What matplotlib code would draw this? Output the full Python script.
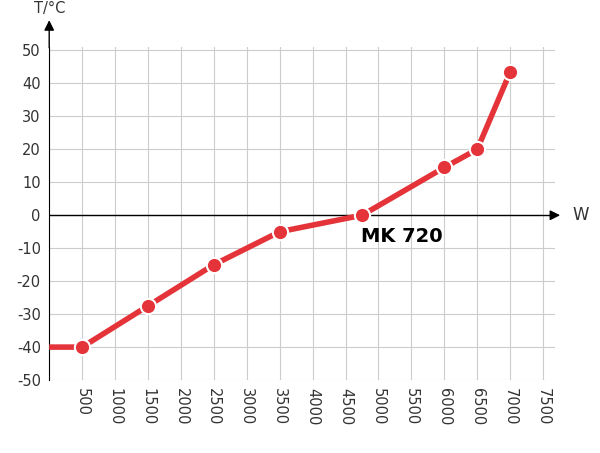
import matplotlib.pyplot as plt

watts = [0, 500, 1500, 2500, 3500, 4750, 6000, 6500, 7000]
temps = [-40, -40, -27.5, -15, -5, 0, 14.5, 20, 43.5]
xticks = list(range(500, 7501, 500))
yticks = list(range(-50, 51, 10))

fig = plt.figure(figsize=(6, 4.53), dpi=100)
ax = fig.add_axes([0.082, 0.161, 0.843, 0.735])
ax.set_xlim(0, 7680)
ax.set_ylim(-50, 51)
for x in xticks:
    ax.axvline(x, color='#cccccc', lw=0.8, zorder=0)
for y in yticks:
    ax.axhline(y, color='#cccccc', lw=0.8, zorder=0)
for s in ['top', 'right', 'bottom']:
    ax.spines[s].set_visible(False)
ax.spines['left'].set_color('black')
ax.axhline(0, color='black', lw=1, zorder=1)

ax.plot(watts, temps, color='#e4343a', lw=4, zorder=3, solid_capstyle='butt')
ax.plot(watts[1:], temps[1:], 'o', color='#e4343a', ms=11, mec='white', mew=1.5, zorder=4)

ax.set_xticks(xticks)
ax.set_xticklabels([str(x) for x in xticks], rotation=-90, fontsize=10.5, color='#333333')
ax.set_yticks(yticks)
ax.set_yticklabels([str(y) for y in yticks], fontsize=10.5, color='#333333')
ax.tick_params(length=0, pad=6)

# arrows
ax.annotate('', xy=(0, 60), xytext=(0, 50), annotation_clip=False,
            arrowprops=dict(arrowstyle='-|>', color='black', lw=1, mutation_scale=15))
ax.annotate('', xy=(7800, 0), xytext=(7600, 0), annotation_clip=False,
            arrowprops=dict(arrowstyle='-|>', color='black', lw=1, mutation_scale=15))
ax.text(0, 60.5, 'T/°C', fontsize=10.5, ha='center', va='bottom', color='#333333')
ax.text(7950, 0, 'W', fontsize=12, ha='left', va='center', color='#333333')
ax.text(5350, -6.5, 'MK 720', fontsize=14, fontweight='bold', ha='center', va='center')

fig.savefig('out.png', dpi=100)
